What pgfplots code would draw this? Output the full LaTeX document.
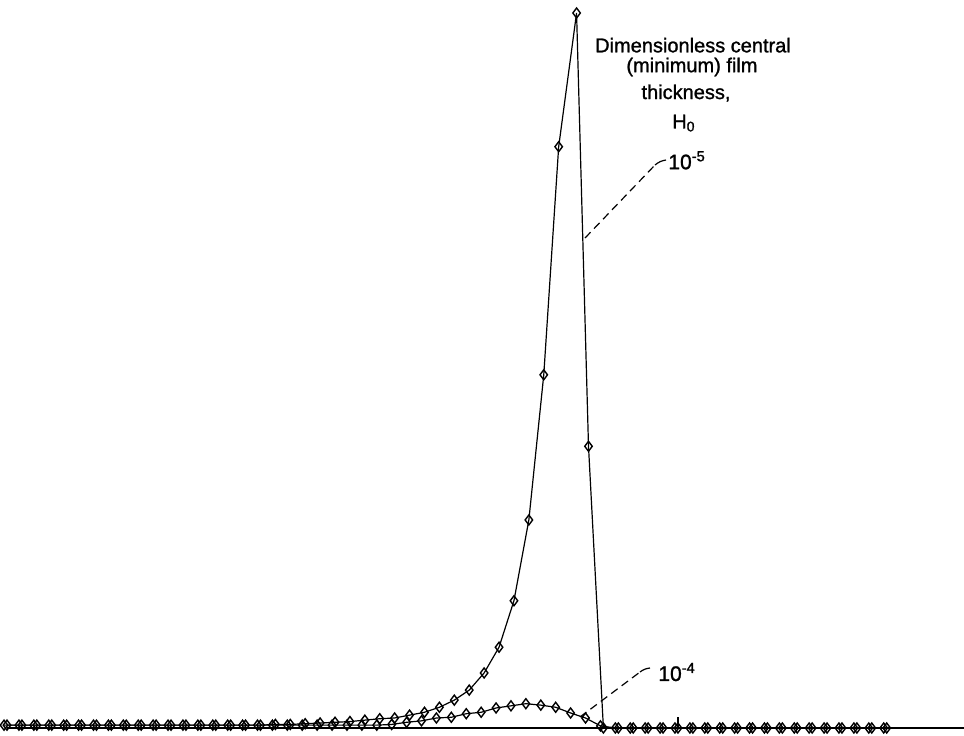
\documentclass[border=0pt]{standalone}
\usepackage{fontspec}
\setmainfont{Liberation Sans}[FakeBold=1.2]
\usepackage{pgfplots}
\pgfplotsset{compat=1.18}
\usepackage{pgfplotstable}

% H0 = 1e-5 (thin film): X, dimensionless pressure
\pgfplotstableread{
X P
-4.5 0.004
-4.4 0.004
-4.3 0.004
-4.2 0.004
-4.1 0.004
-4.0 0.004
-3.9 0.004
-3.8 0.004
-3.7 0.004
-3.6 0.004
-3.5 0.004
-3.4 0.004
-3.3 0.004
-3.2 0.004
-3.1 0.004
-3.0 0.004
-2.9 0.004
-2.8 0.004
-2.7 0.005
-2.6 0.005
-2.5 0.006
-2.4 0.007
-2.3 0.008
-2.2 0.009
-2.1 0.011
-2.0 0.013
-1.9 0.014
-1.8 0.018
-1.7 0.022
-1.6 0.029
-1.5 0.039
-1.4 0.053
-1.3 0.077
-1.2 0.113
-1.1 0.178
-1.0 0.291
-0.9 0.494
-0.8 0.813
-0.68 1.000
-0.6 0.394
-0.5 0.000
-0.4 0.000
-0.3 0.000
-0.2 0.000
-0.1 0.000
0.0 0.000
0.1 0.000
0.2 0.000
0.3 0.000
0.4 0.000
0.5 0.000
0.6 0.000
0.7 0.000
0.8 0.000
0.9 0.000
1.0 0.000
1.1 0.000
1.2 0.000
1.3 0.000
1.4 0.000
}\thinfilm

% H0 = 1e-4
\pgfplotstableread{
X P
-4.52 0.004
-4.42 0.004
-4.32 0.004
-4.22 0.004
-4.12 0.004
-4.02 0.004
-3.92 0.004
-3.82 0.004
-3.72 0.004
-3.62 0.004
-3.52 0.004
-3.42 0.004
-3.32 0.004
-3.22 0.004
-3.12 0.004
-3.02 0.004
-2.92 0.004
-2.82 0.004
-2.72 0.004
-2.62 0.004
-2.52 0.004
-2.42 0.004
-2.32 0.004
-2.22 0.004
-2.12 0.004
-2.02 0.004
-1.92 0.005
-1.82 0.008
-1.72 0.010
-1.62 0.014
-1.52 0.015
-1.42 0.020
-1.32 0.022
-1.22 0.028
-1.12 0.031
-1.02 0.034
-0.92 0.032
-0.82 0.029
-0.72 0.021
-0.62 0.014
-0.52 0.003
-0.42 0.000
-0.32 0.000
-0.22 0.000
-0.12 0.000
-0.02 0.000
0.08 0.000
0.18 0.000
0.28 0.000
0.38 0.000
0.48 0.000
0.58 0.000
0.68 0.000
0.78 0.000
0.88 0.000
0.98 0.000
1.08 0.000
1.18 0.000
1.28 0.000
1.38 0.000
}\thickfilm

\begin{document}
\begin{tikzpicture}
\begin{axis}[
  scale only axis, width=482pt, height=367.5pt,
  xmin=-4.547, xmax=1.9185, ymin=-0.00979, ymax=1.01818,
  hide axis, clip=false,
  every node/.style={font=\fontsize{9.5}{11}\selectfont},
]
\addplot[black, line width=0.7pt] coordinates {(-4.5,0) (1.9185,0)};
\addplot[black, line width=0.7pt] coordinates {(0,0) (0,0.0154)};
\addplot[black, line width=0.6pt, mark=diamond, mark size=2.5pt,
  mark options={fill=white, line width=0.7pt}] table {\thickfilm};
\addplot[black, line width=0.6pt, mark=diamond, mark size=2.5pt,
  mark options={fill=white, line width=0.7pt}] table {\thinfilm};

\node at (axis cs:0.101,0.955) {Dimensionless central};
\node at (axis cs:0.094,0.9245) {(minimum) film};
\node at (axis cs:0.054,0.888) {thickness,};
\node at (axis cs:0.040,0.846) {H\textsubscript{0}};
\node[anchor=west, inner sep=0pt, font=\fontsize{10.5}{12}\selectfont] at (axis cs:-0.067,0.794) {10\textsuperscript{-5}};
\node[anchor=west, inner sep=0pt, font=\fontsize{10.5}{12}\selectfont] at (axis cs:-0.134,0.0783) {10\textsuperscript{-4}};

\draw[black, line width=0.6pt, dash pattern=on 4pt off 2.5pt] (axis cs:-0.6234,0.6853) -- (axis cs:-0.154,0.7874);
\draw[black, line width=0.6pt] (axis cs:-0.154,0.7874) to[bend left=15] (axis cs:-0.08,0.7944);
\draw[black, line width=0.6pt, dash pattern=on 4pt off 2.5pt] (axis cs:-0.657,0.0154) -- (axis cs:-0.2546,0.0783);
\draw[black, line width=0.6pt] (axis cs:-0.2546,0.0783) to[bend left=15] (axis cs:-0.1874,0.0839);
\end{axis}
\pgfresetboundingbox
\useasboundingbox (current axis.south west) rectangle (current axis.north east);
\end{tikzpicture}
\end{document}
